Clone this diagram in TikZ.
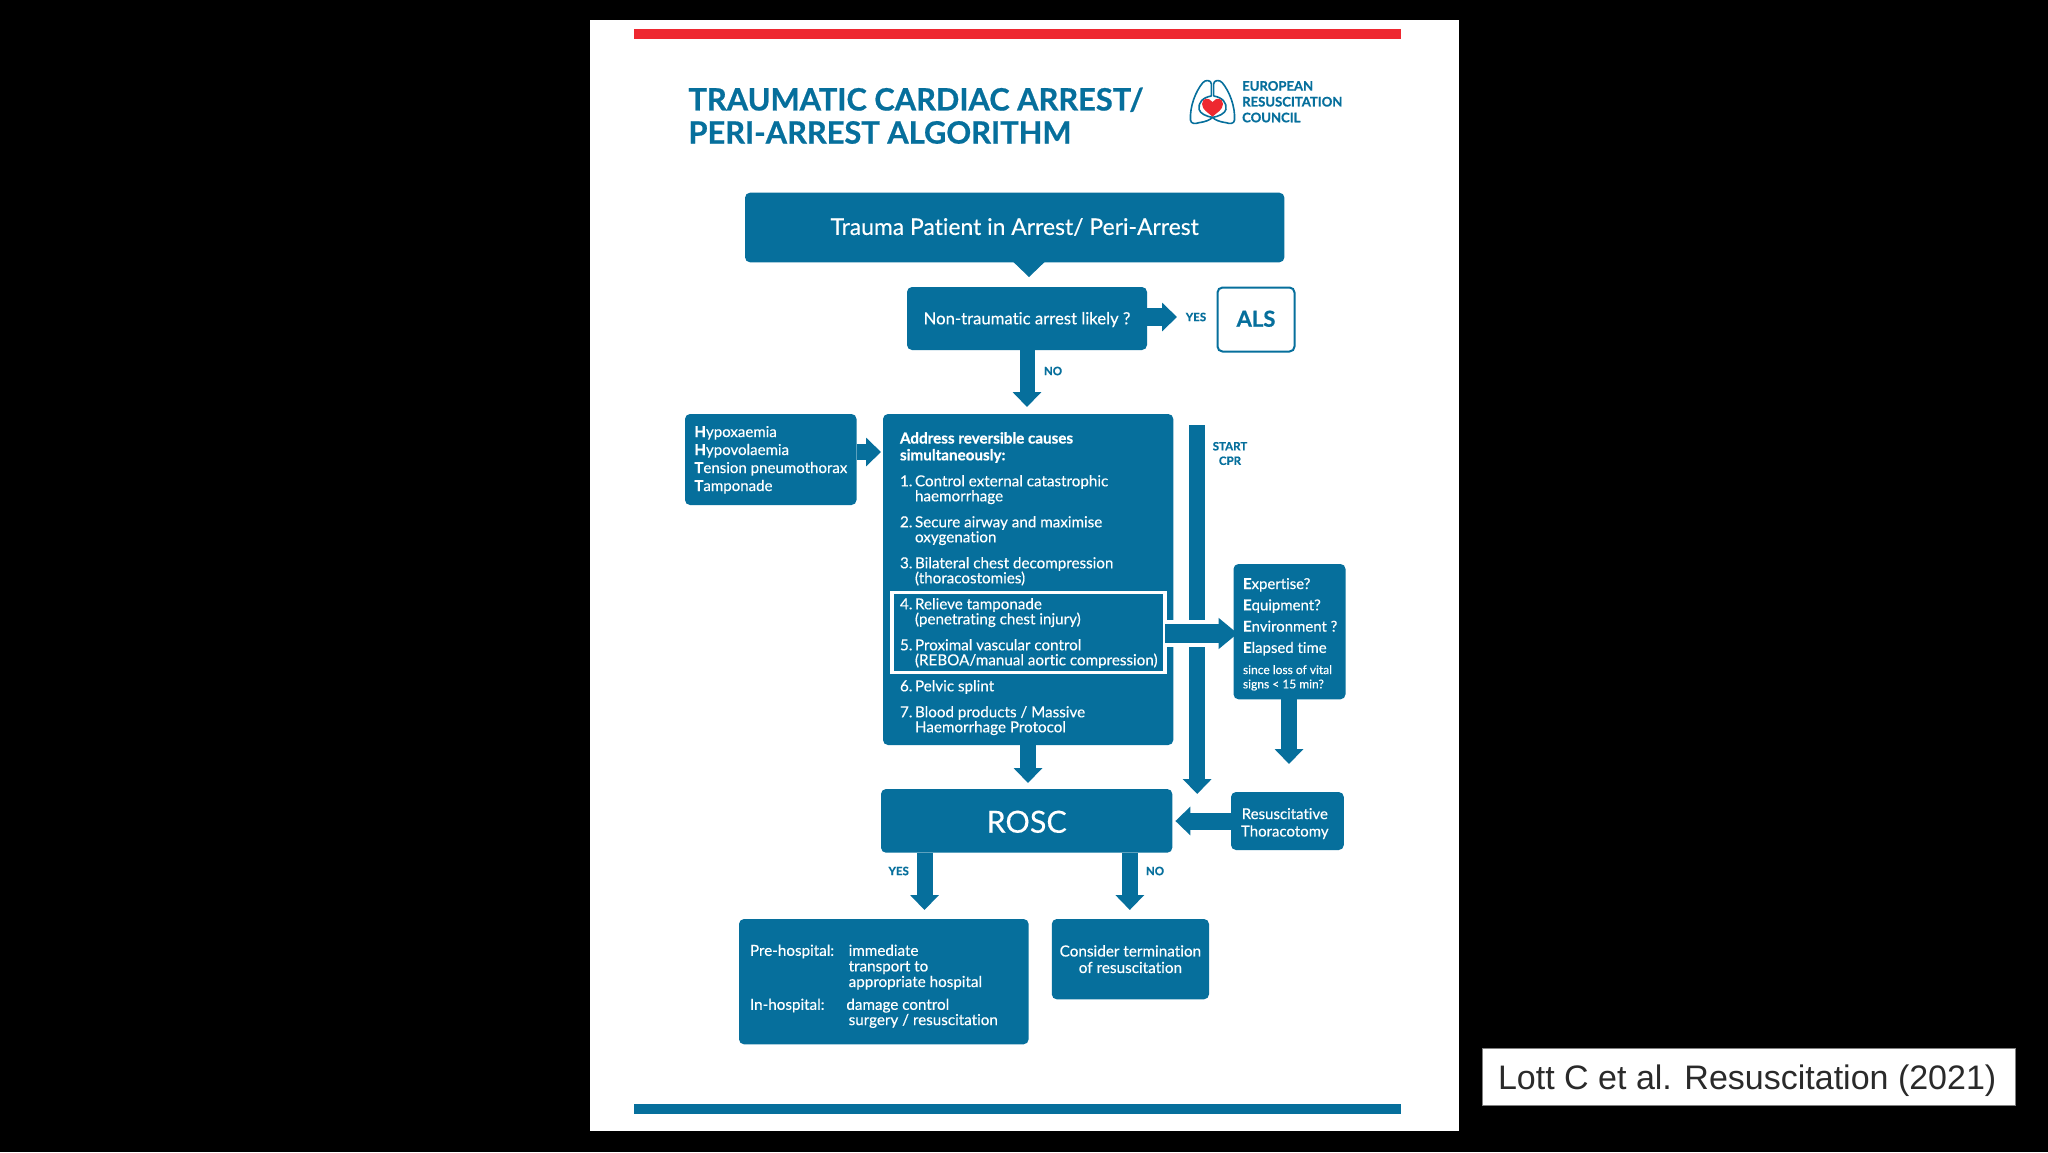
\documentclass[tikz,border=0pt]{standalone}
\usepackage{fontspec}
\setmainfont{Lato}[FakeBold=0.3,BoldFeatures={FakeBold=0.7},Ligatures={NoCommon,NoRare}]
\newfontfamily\citefont{Liberation Sans}
\usetikzlibrary{arrows.meta}
\definecolor{ercblue}{HTML}{066F9C}
\definecolor{ercred}{HTML}{EE2830}
\definecolor{citeink}{HTML}{2A2A2A}
\newcommand{\nl}[2]{\makebox[15pt][l]{#1}#2}
\newcommand{\il}[1]{\hspace*{15pt}#1}
\newcommand{\bb}[1]{\textbf{#1}}
\tikzset{
  ercbox/.style={fill=ercblue,rounded corners=5pt,inner sep=0pt,outer sep=0pt,text=white,align=center},
  txt/.style={inner sep=0pt,outer sep=0pt,text=white,align=left,anchor=north west},
  lbl/.style={inner sep=0pt,outer sep=0pt,text=ercblue,align=center,font=\fontsize{11.5}{14.5}\selectfont\bfseries},
  blockv/.style={draw=ercblue,line width=16pt,-{Triangle[length=15pt,width=28pt,fill=ercblue]}},
  bodyfont/.style={font=\fontsize{15.2}{15.6}\selectfont},
}
\begin{document}
\begin{tikzpicture}[x=1pt,y=-1pt]
\useasboundingbox (0,0) rectangle (2048,1152);
\fill[black] (0,0) rectangle (2048,1152);
\fill[white] (590,20) rectangle (1459,1131);
\fill[ercred] (633.5,29) rectangle (1401,39);
\fill[ercblue] (633.5,1104) rectangle (1401,1114.3);

% title
\node[txt,text=ercblue,font=\fontsize{30.8}{32}\selectfont\bfseries] (title) at (688.5,87.6)
  {\strut TRAUMATIC CARDIAC ARREST/\\PERI-ARREST ALGORITHM};

% logo
\begin{scope}[shift={(1163.6,60)},x=0.3733pt,y=-0.3333pt]
  \draw[ercblue,line width=1.6pt,line join=round]
    (128,108) -- (128,72) .. controls (128,60) and (112,58) .. (105,68)
    .. controls (85,95) and (70,140) .. (72,180) .. controls (73,192) and (85,192) .. (95,188)
    .. controls (110,186) and (125,180) .. (131,172)
    .. controls (115,170) and (97,160) .. (95,148) .. controls (92,128) and (105,112) .. (128,108);
  \draw[ercblue,line width=1.6pt,line join=round]
    (134,108) -- (134,72) .. controls (134,60) and (150,58) .. (157,68)
    .. controls (177,95) and (192,140) .. (190,180) .. controls (189,192) and (177,192) .. (167,188)
    .. controls (152,186) and (137,180) .. (131,172)
    .. controls (147,170) and (165,160) .. (167,148) .. controls (170,128) and (157,112) .. (134,108);
  \fill[ercred] (131,126) .. controls (120,110) and (103,114) .. (103,132)
    .. controls (103,150) and (120,158) .. (131,170)
    .. controls (142,158) and (159,150) .. (159,132)
    .. controls (159,114) and (142,110) .. (131,126) -- cycle;
\end{scope}
\node[txt,text=ercblue,font=\fontsize{13.1}{15.8}\selectfont\bfseries] (ercname) at (1242.2,79.6)
  {\strut EUROPEAN\\RESUSCITATION\\COUNCIL};

% boxes
\node[ercbox,minimum width=539.4pt,minimum height=69.6pt,text height=17pt,text depth=2.2pt,font=\fontsize{22.9}{26}\selectfont] (trauma) at (1014.7,227.5)
  {Trauma Patient in Arrest/ Peri-Arrest};
\node[ercbox,minimum width=240pt,minimum height=63pt,text height=14pt,text depth=2.4pt,font=\fontsize{16.7}{18}\selectfont] (nontrauma) at (1027,318.5)
  {Non-traumatic arrest likely ?};
\node[fill=white,draw=ercblue,line width=2pt,rounded corners=5pt,inner sep=0pt,outer sep=0pt,text=ercblue,
  minimum width=77pt,minimum height=64pt,text height=17pt,text depth=2.6pt,font=\fontsize{22}{26}\selectfont\bfseries] (als) at (1256,319.5) {ALS};
\node[ercbox,minimum width=171.5pt,minimum height=91pt] (hhtt) at (770.75,459.5) {};
\node[ercbox,minimum width=290.3pt,minimum height=331pt] (causes) at (1028.15,579.5) {};
\node[ercbox,minimum width=112pt,minimum height=135.3pt] (eeee) at (1289.5,631.65) {};
\node[ercbox,minimum width=291.3pt,minimum height=63.7pt,text height=26pt,text depth=2.3pt,font=\fontsize{30.5}{32}\selectfont] (rosc) at (1026.65,820.85) {ROSC};
\node[ercbox,minimum width=112.8pt,minimum height=58pt] (thor) at (1287.4,821) {};
\node[txt,anchor=center,align=center,font=\fontsize{15}{17.4}\selectfont] (thorText) at (1284.8,823.6) {Resuscitative\\Thoracotomy};
\node[ercbox,minimum width=289.6pt,minimum height=125.3pt] (dest) at (883.8,981.65) {};
\node[ercbox,minimum width=157.2pt,minimum height=80.3pt,font=\fontsize{15.3}{16.5}\selectfont] (term) at (1130.4,959.15)
  {Consider termination\\of resuscitation};

% free ends of connectors
\coordinate (tipNT) at (1029,277);
\coordinate (tipALS) at (1177,317);
\coordinate (tipCauses) at (1027,407);
\coordinate (tipLeft) at (881,452);
\coordinate (cprTop) at (1197.2,425);
\coordinate (cprTip) at (1197.2,794);
\coordinate (tipE) at (1237.6,633.5);
\coordinate (tipRosc) at (1028,783);
\coordinate (tipDown) at (1289,764);
\coordinate (tipThor) at (1175.4,821);
\coordinate (tipYes) at (924.5,910);
\coordinate (tipNo) at (1129.8,910);

% connectors
\draw[draw=ercblue,line width=1pt,-{Triangle[length=15pt,width=31pt,fill=ercblue]}] (trauma.south -| tipNT) -- (tipNT);
\draw[blockv,line width=18pt] (nontrauma.east |- tipALS) -- (tipALS);
\draw[blockv,line width=15pt] (nontrauma.south -| tipCauses) -- (tipCauses);
\draw[blockv] (hhtt.east |- tipLeft) -- (tipLeft);
\draw[blockv,line width=16.5pt] (cprTop) -- (cprTip);
\draw[blockv] (causes.south -| tipRosc) -- (tipRosc);
\draw[blockv] (eeee.south -| tipDown) -- (tipDown);
\draw[blockv,line width=17pt] (thor.west |- tipThor) -- (tipThor);
\draw[blockv] (rosc.south -| tipYes) -- (tipYes);
\draw[blockv] (rosc.south -| tipNo) -- (tipNo);

% highlighted steps 4 and 5
\node[draw=white,line width=3.6pt,inner sep=0pt,outer sep=0pt,minimum width=273pt,minimum height=80pt] (hilite) at (1028.5,632.5) {};
\fill[white] (1165,620) rectangle (1219,647);
\draw[blockv,line width=19.5pt,-{Triangle[length=19pt,width=30pt,fill=ercblue]}] (hilite.east |- tipE) -- (tipE);

% box texts
\node[txt,font=\fontsize{15.05}{18}\selectfont] (hhttText) at (694.4,424.4)
  {\strut\bb{H}ypoxaemia\\\bb{H}ypovolaemia\\\bb{T}ension pneumothorax\\\bb{T}amponade};
\node[txt,font=\fontsize{15.2}{15}\selectfont] (causesText) at (900,432.2)
  {\strut\bb{Address reversible causes}\\\bb{simultaneously:}\\[11pt]
   \nl{1.}{Control external catastrophic}\\\il{haemorrhage}\\[11pt]
   \nl{2.}{Secure airway and maximise}\\\il{oxygenation}\\[11pt]
   \nl{3.}{Bilateral chest decompression}\\\il{(thoracostomies)}\\[11pt]
   \nl{4.}{Relieve tamponade}\\\il{(penetrating chest injury)}\\[11pt]
   \nl{5.}{Proximal vascular control}\\\il{(REBOA/manual aortic compression)}\\[11pt]
   \nl{6.}{Pelvic splint}\\[11pt]
   \nl{7.}{Blood products / Massive}\\\il{Haemorrhage Protocol}};
\node[txt,font=\fontsize{14.95}{21.3}\selectfont] (eeeeText) at (1243,574.1)
  {\strut\bb{E}xpertise?\\\bb{E}quipment?\\\bb{E}nvironment ?\\\bb{E}lapsed time};
\node[txt,font=\fontsize{12}{14.3}\selectfont] (eeeeSmall) at (1243,664)
  {\strut since loss of vital\\signs < 15 min?};
\node[txt,bodyfont] (preA) at (750,944.6) {\strut Pre-hospital:};
\node[txt,bodyfont] (preB) at (848.7,944.6) {\strut immediate\\transport to\\appropriate hospital};
\node[txt,bodyfont] (inA) at (750,998.6) {\strut In-hospital:};
\node[txt,bodyfont] (inB) at (846.4,998.6) {\strut damage control};
\node[txt,bodyfont] (inC) at (848.7,1013.9) {\strut surgery / resuscitation};

% connector labels
\node[lbl] (lblYes1) at (1196,317) {YES};
\node[lbl] (lblNo1) at (1053,371) {NO};
\node[lbl] (lblCpr) at (1230,453.5) {START\\CPR};
\node[lbl] (lblYes2) at (898.7,871) {YES};
\node[lbl] (lblNo2) at (1155,871) {NO};

% citation
\node[fill=white,draw=gray,line width=0.6pt,inner sep=0pt,outer sep=0pt,text=citeink,minimum width=533pt,minimum height=57pt,
  text height=26pt,text depth=2.4pt,font=\citefont\fontsize{34}{38}\selectfont] (cite) at (1749.2,1077.2) {\hspace*{-4pt}Lott C et al. Resuscitation (2021)};
\end{tikzpicture}
\end{document}
